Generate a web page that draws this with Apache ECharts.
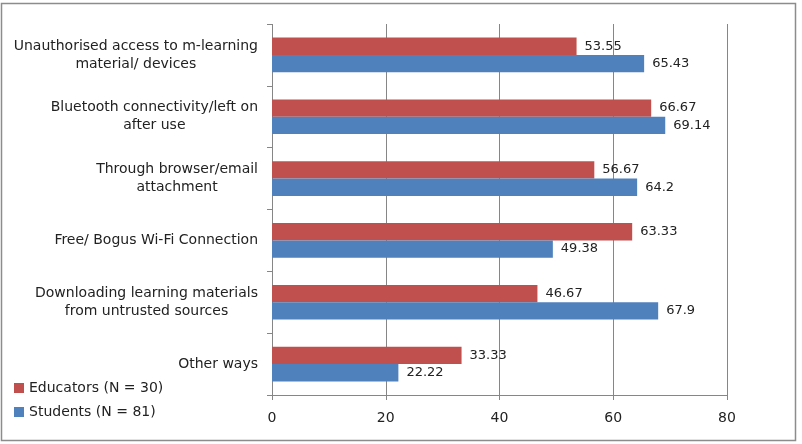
<!DOCTYPE html>
<html>
<head>
<meta charset="utf-8">
<script src="https://cdn.jsdelivr.net/npm/echarts@6/dist/echarts.min.js"></script>
<style>
  html, body { margin: 0; padding: 0; background: #fff; }
  #chart { width: 802px; height: 444px; }
</style>
</head>
<body>
<div id="chart"></div>
<script>
var categories = [
    "Unauthorised access to m-learning\nmaterial/ devices",
    "Bluetooth connectivity/left on\nafter use",
    "Through browser/email\nattachment",
    "Free/ Bogus Wi-Fi Connection",
    "Downloading learning materials\nfrom untrusted sources",
    "Other ways"
];
var educators = [53.55, 66.67, 56.67, 63.33, 46.67, 33.33];
var students = [65.43, 69.14, 64.2, 49.38, 67.9, 22.22];
var xTicks = [0, 20, 40, 60, 80];

var font = "DejaVu Sans";
var chart = echarts.init(document.getElementById("chart"));

chart.setOption({
    animation: false,
    textStyle: { fontFamily: font },
    graphic: [{
        type: "rect",
        shape: { x: 1.5, y: 3.5, width: 794, height: 437 },
        style: { fill: null, stroke: "#8c8c8c", lineWidth: 1.5 },
        silent: true
    }],
    legend: {
        orient: "vertical",
        left: 9,
        top: 376,
        itemWidth: 10,
        itemHeight: 10,
        itemGap: 10,
        icon: "rect",
        textStyle: { fontFamily: font, fontSize: 14, color: "#222" },
        data: ["Educators (N = 30)", "Students (N = 81)"]
    },
    grid: { left: 272, right: 75, top: 24, bottom: 49, containLabel: false },
    xAxis: {
        type: "value",
        min: xTicks[0],
        max: xTicks[xTicks.length - 1],
        interval: 20,
        axisLine: { show: true, lineStyle: { color: "#868686", width: 1 } },
        axisTick: { show: true, length: 5, lineStyle: { color: "#868686" } },
        splitLine: { show: true, lineStyle: { color: "#868686", width: 1 } },
        axisLabel: { fontFamily: font, fontSize: 14, color: "#222", margin: 16 }
    },
    yAxis: {
        type: "category",
        inverse: true,
        data: categories,
        axisLine: { show: false },
        axisTick: { show: true, length: 5, lineStyle: { color: "#868686" } },
        axisLabel: {
            margin: 14,
            formatter: function (v) {
                return v.split("\n").map(function (l) { return "{c|" + l + "}"; }).join("\n");
            },
            rich: {
                c: { align: "center", fontFamily: font, fontSize: 14, color: "#222", lineHeight: 18 }
            }
        }
    },
    series: [{
        name: "Educators (N = 30)",
        type: "bar",
        data: educators,
        barGap: "0%",
        barCategoryGap: "44%",
        itemStyle: { color: "#c0504d" },
        label: { show: true, position: "right", distance: 8, fontFamily: font, fontSize: 13, color: "#222" }
    }, {
        name: "Students (N = 81)",
        type: "bar",
        data: students,
        barGap: "0%",
        barCategoryGap: "44%",
        itemStyle: { color: "#4f81bd" },
        label: { show: true, position: "right", distance: 8, fontFamily: font, fontSize: 13, color: "#222" }
    }]
});
</script>
</body>
</html>
